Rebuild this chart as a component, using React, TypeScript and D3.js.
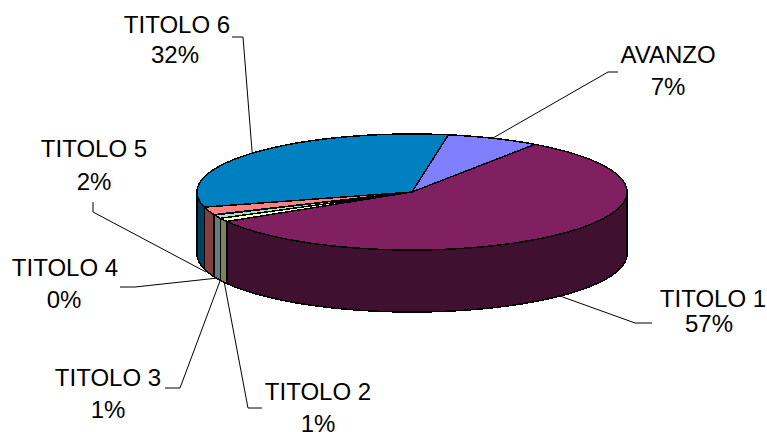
import React from "react";
import * as d3 from "d3";

const categories = ["AVANZO", "TITOLO 1", "TITOLO 2", "TITOLO 3", "TITOLO 4", "TITOLO 5", "TITOLO 6"];
const shareValues = [7, 57, 1, 1, 0.1, 2.2, 32];
const shareLabels = ["7%", "57%", "1%", "1%", "0%", "2%", "32%"];
const topColors = ["#8080FF", "#802060", "#FFFFC0", "#A0E0E0", "#A0E0E0", "#FF8080", "#0080C0"];
const sideColors = ["#404080", "#401030", "#808060", "#608080", "#608080", "#804040", "#004060"];

const W = 767, H = 432;
const cx = 412, cy = 192, rx = 215, ry = 58, depth = 62;
const fontSize = 24;

// label layout: text centre x, first-line y, second-line x and gap, leader polyline
const labelLayout: { x: number; y: number; x2: number; gap: number; leader: [number, number][] }[] = [
  { x: 668, y: 63, x2: 668, gap: 32, leader: [[493, 138], [608, 72], [618, 72]] },
  { x: 713, y: 307, x2: 709, gap: 25, leader: [[560, 296], [635, 323], [652, 323]] },
  { x: 318, y: 400, x2: 318, gap: 32, leader: [[224, 281], [248, 408], [262, 408]] },
  { x: 108, y: 386, x2: 108, gap: 32, leader: [[220, 281], [180, 388], [165, 388]] },
  { x: 65, y: 276, x2: 64, gap: 32, leader: [[218, 278], [135, 287], [120, 287]] },
  { x: 94, y: 157, x2: 94, gap: 33, leader: [[206, 272], [93, 212], [93, 202]] },
  { x: 177, y: 33, x2: 175, gap: 30, leader: [[254, 176], [243, 37], [232, 37]] },
];

const pt = (a: number, dy = 0): [number, number] => [cx + rx * Math.sin(a), cy - ry * Math.cos(a) + dy];

function arcPts(a0: number, a1: number, dy = 0) {
  const n = Math.max(2, Math.ceil(Math.abs(a1 - a0) / 0.01));
  return d3.range(n + 1).map((i) => pt(a0 + ((a1 - a0) * i) / n, dy));
}

const line = d3.line<[number, number]>();

export default function App() {
  const arcs = d3
    .pie<number>()
    .sort(null)
    .startAngle(0.17)
    .endAngle(0.17 + 2 * Math.PI)(shareValues);
  const order = arcs.map((_, i) => i);
  const sideFor = (s0: number, s1: number) => {
    const a = Math.max(s0, Math.PI / 2);
    const b = Math.min(s1, (3 * Math.PI) / 2);
    if (b <= a) return null;
    const top = arcPts(a, b);
    const bot = arcPts(b, a, depth);
    return line([...top, ...bot]) + "Z";
  };
  return (
    <svg width={W} height={H} style={{ position: "absolute", left: 0, top: 0, background: "#fff" }} shapeRendering="crispEdges">
      <g shapeRendering="auto">
        {labelLayout.map((l, i) => (
          <path key={i} d={line(l.leader)!} fill="none" stroke="#000" strokeWidth={1} />
        ))}
      </g>
      {order.map((i) => {
        const d = sideFor(arcs[i].startAngle, arcs[i].endAngle);
        return d ? <path key={"s" + i} d={d} fill={sideColors[i]} stroke="#000" strokeWidth={1.5} /> : null;
      })}
      {order.map((i) => {
        const pts = arcPts(arcs[i].startAngle, arcs[i].endAngle);
        const d = line([[cx, cy], ...pts]) + "Z";
        return <path key={"t" + i} d={d} fill={topColors[i]} stroke="#000" strokeWidth={1.5} />;
      })}
      {categories.map((c, i) => {
        const l = labelLayout[i];
        return (
          <text key={c} textAnchor="middle" fontFamily="'Liberation Sans', Arial, sans-serif" fontSize={fontSize} fill="#000">
            <tspan x={l.x} y={l.y}>{c}</tspan>
            <tspan x={l.x2} y={l.y + l.gap}>{shareLabels[i]}</tspan>
          </text>
        );
      })}
    </svg>
  );
}
